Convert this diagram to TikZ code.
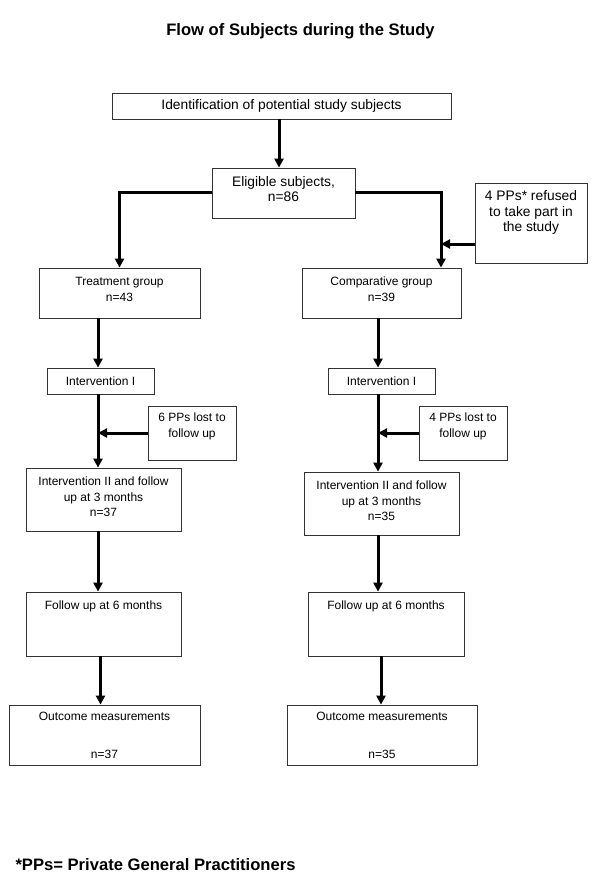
\documentclass[tikz,border=0pt]{standalone}
\usepackage{fontspec}
\setmainfont{Liberation Sans}
\usetikzlibrary{arrows.meta}
\begin{document}
\begin{tikzpicture}[x=1pt, y=-1pt,
    box/.style={draw=black!80, line width=0.8pt, align=center, inner sep=0pt,
        font=\fontsize{12}{15.7}\selectfont},
    bigbox/.style={box, font=\fontsize{13.8}{15.5}\selectfont},
    flow/.style={line width=3pt, -{Triangle[length=9pt, width=9pt]}},
    heading/.style={font=\fontsize{16.6}{19}\selectfont\bfseries}]
\useasboundingbox (0,0) rectangle (600,885);
\node[heading] (title) at (300.5,31) {Flow of Subjects during the Study};
\node[bigbox, minimum width=339pt, minimum height=26pt] (ident) at (281.5,106) {Identification of potential study subjects};
\node[bigbox, minimum width=143pt, minimum height=50pt] (elig) at (283.5,193) {Eligible subjects,\\n=86\\[-8pt]\mbox{}};
\node[bigbox, minimum width=112pt, minimum height=80pt] (refuse) at (531,223) {4 PPs* refused\\to take part in\\the study\\[8pt]\mbox{}};
\node[box, minimum width=161pt, minimum height=50pt] (treat) at (119.5,293) {Treatment group\\n=43\\[-8pt]\mbox{}};
\node[box, minimum width=159pt, minimum height=50pt] (comp) at (381.5,293) {Comparative group\\n=39\\[-8pt]\mbox{}};
\node[box, minimum width=107pt, minimum height=26pt] (intL) at (100.5,381) {Intervention I};
\node[box, minimum width=107pt, minimum height=26pt] (intR) at (381.5,381) {Intervention I};
\node[box, minimum width=88pt, minimum height=54pt] (lostL) at (192,433) {6 PPs lost to\\follow up\\\mbox{}};
\node[box, minimum width=88pt, minimum height=54pt] (lostR) at (463,433) {4 PPs lost to\\follow up\\\mbox{}};
\node[box, minimum width=155pt, minimum height=63pt] (twoL) at (103.5,499.5) {Intervention II and follow\\up at 3 months\\n=37\\[-10pt]\mbox{}};
\node[box, minimum width=155pt, minimum height=63pt] (twoR) at (381.5,503.5) {Intervention II and follow\\up at 3 months\\n=35\\[-10pt]\mbox{}};
\node[box, minimum width=155pt, minimum height=64pt] (sixL) at (103.5,624) {Follow up at 6 months\\[22pt]\mbox{}};
\node[box, minimum width=156pt, minimum height=64pt] (sixR) at (386,624) {Follow up at 6 months\\[22pt]\mbox{}};
\node[box, minimum width=191pt, minimum height=60pt] (outL) at (104.5,735) {Outcome measurements\\[22.3pt]n=37};
\node[box, minimum width=190pt, minimum height=60pt] (outR) at (382,735) {Outcome measurements\\[22.3pt]n=35};
\node[heading, anchor=west] (note) at (12,865) {*PPs= Private General Practitioners};
\coordinate (spineL) at (98,0);
\coordinate (spineR) at (378,0);
\coordinate (drop) at (441,0);
\draw[flow] (ident.south -| 279,0) -- (elig.north -| 279,0);
\draw[flow] (elig.west) -| (treat.north);
\draw[flow] (elig.east) -| (drop |- comp.north);
\draw[flow] ([yshift=-21pt]refuse.west) -- (drop |- 0,244);
\draw[flow] (spineL |- treat.south) -- (spineL |- intL.north);
\draw[flow] (spineR |- comp.south) -- (spineR |- intR.north);
\draw[flow] (spineL |- intL.south) -- (spineL |- twoL.north);
\draw[flow] (spineR |- intR.south) -- (spineR |- twoR.north);
\draw[flow] (lostL.west) -- (spineL |- lostL.west);
\draw[flow] (lostR.west) -- (spineR |- lostR.west);
\draw[flow] (spineL |- twoL.south) -- (spineL |- sixL.north);
\draw[flow] (spineR |- twoR.south) -- (spineR |- sixR.north);
\draw[flow] ([xshift=-3pt]sixL.south) -- ([xshift=-3pt]sixL.south |- outL.north);
\draw[flow] ([xshift=-5pt]sixR.south) -- ([xshift=-5pt]sixR.south |- outR.north);
\end{tikzpicture}
\end{document}
